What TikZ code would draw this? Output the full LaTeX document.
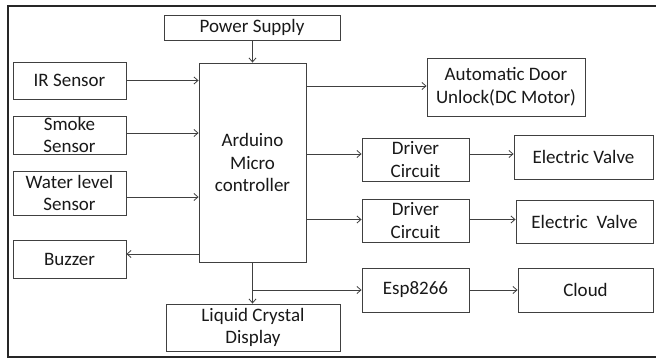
\documentclass[tikz,border=0pt]{standalone}
\usepackage{fontspec}
\setmainfont{Carlito}
\usetikzlibrary{arrows.meta}
\begin{document}
\begin{tikzpicture}[x=1pt,y=-1pt,
  box/.style={draw=black!75, line width=0.9pt, fill=white, inner sep=0pt, align=center,
    font=\fontsize{19}{22.5}\selectfont, text=black!90},
  conn/.style={draw=black!75, line width=0.8pt, -{Straight Barb[length=4pt,width=7pt]}},
  plain/.style={draw=black!75, line width=0.8pt}]
\useasboundingbox (0,0) rectangle (656,358);
\draw[line width=2pt, black!85] (657,6) -- (8,6) -- (8,357) -- (657,357);
\node[box, minimum width=176pt, minimum height=25pt] (ps) at (252,27.5) {Power Supply};
\node[box, minimum width=113pt, minimum height=37pt] (ir) at (69.5,80.5) {IR Sensor};
\node[box, minimum width=113pt, minimum height=38pt] (smoke) at (69.5,135) {Smoke\\Sensor};
\node[box, minimum width=113pt, minimum height=44pt] (water) at (69.5,193) {Water level\\Sensor};
\node[box, minimum width=113pt, minimum height=38pt] (buzzer) at (69.5,259) {Buzzer};
\node[box, minimum width=107pt, minimum height=199pt] (ard) at (252.5,162.5) {Arduino\\Micro\\controller};
\node[box, minimum width=174pt, minimum height=47pt] (lcd) at (253,327.5) {Liquid Crystal\\Display};
\node[box, minimum width=158pt, minimum height=58pt] (door) at (506,87) {Automatic Door\\Unlock(DC Motor)};
\node[box, minimum width=107pt, minimum height=43pt] (drv1) at (415.5,159.5) {Driver\\Circuit};
\node[box, minimum width=139pt, minimum height=44pt] (ev1) at (583.5,157) {Electric Valve};
\node[box, minimum width=107pt, minimum height=43pt] (drv2) at (415.5,220.5) {Driver\\Circuit};
\node[box, minimum width=137pt, minimum height=43pt] (ev2) at (584.5,221.5) {Electric\ \ Valve};
\node[box, minimum width=107pt, minimum height=44pt] (esp) at (415.5,290) {Esp8266};
\node[box, minimum width=135pt, minimum height=44pt] (cloud) at (585.5,290) {Cloud};
% connectors
\draw[conn] (ps.south -| ard.north) -- (ard.north);
\draw[conn] (ir.east) -- (ir.east -| ard.west);
\draw[conn] ([yshift=2pt]smoke.east) -- ([yshift=2pt]smoke.east -| ard.west);
\draw[conn] ([yshift=-4pt]water.east) -- ([yshift=-4pt]water.east -| ard.west);
\draw[conn] ([yshift=5pt]buzzer.east -| ard.west) -- ([yshift=5pt]buzzer.east);
\draw[conn] ([yshift=1pt]door.west -| ard.east) -- ([yshift=1pt]door.west);
\draw[conn] ([yshift=5.5pt]drv1.west -| ard.east) -- ([yshift=5.5pt]drv1.west);
\draw[conn] ([yshift=5.5pt]drv1.east) -- ([yshift=5.5pt]drv1.east -| ev1.west);
\draw[conn] ([yshift=1pt]drv2.west -| ard.east) -- ([yshift=1pt]drv2.west);
\draw[conn] ([yshift=1pt]drv2.east) -- ([yshift=1pt]drv2.east -| ev2.west);
\draw[conn] (ard.south) -- (lcd.north -| ard.south);
\coordinate (br) at (ard.south |- esp.west);
\draw[conn] (br) -- (esp.west);
\draw[conn] (esp.east) -- (cloud.west);
\end{tikzpicture}
\end{document}
